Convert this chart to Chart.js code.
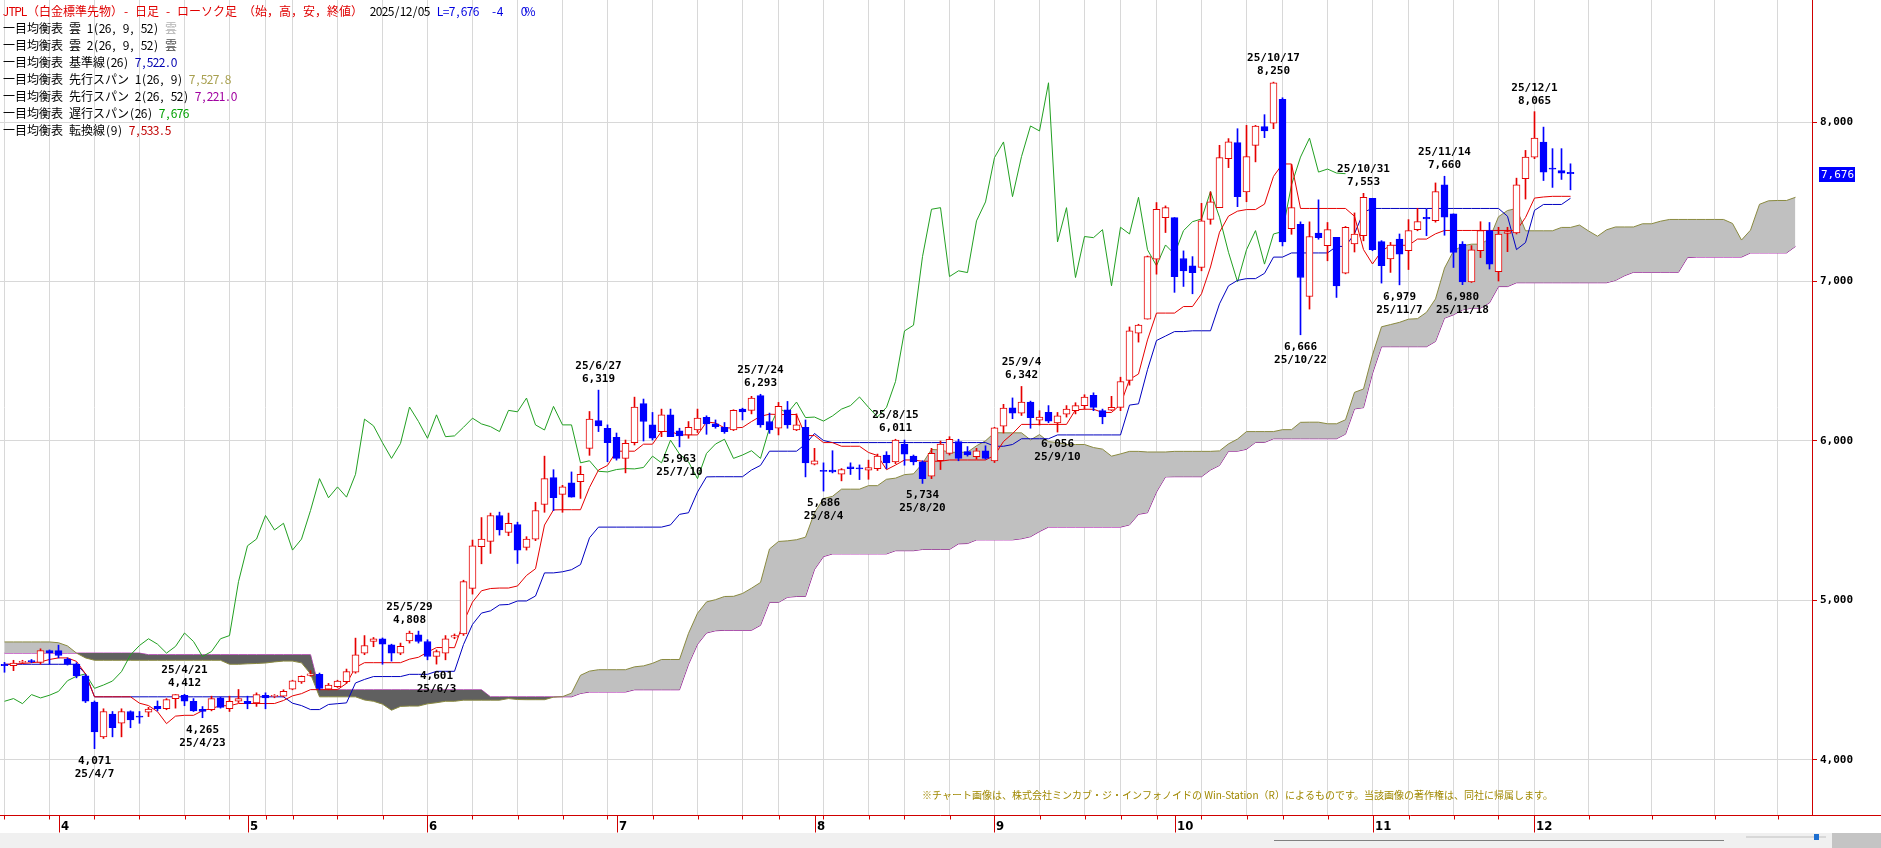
<!DOCTYPE html>
<html>
<head>
<meta charset="utf-8">
<script src="https://cdn.jsdelivr.net/npm/chart.js@4.4.1/dist/chart.umd.min.js"></script>
<style>
  html, body { margin: 0; padding: 0; background: #fff; overflow: hidden; }
  canvas { display: block; }
</style>
</head>
<body>
<canvas id="chart" width="1881" height="848"></canvas>
<script>
const YEAR = 2025;
const dates = [
  '3/24','3/25','3/26','3/27','3/28','3/31',
  '4/1','4/2','4/3','4/4','4/7','4/8','4/9','4/10','4/11','4/14','4/15','4/16','4/17','4/18','4/21','4/22','4/23','4/24','4/25','4/28','4/30',
  '5/1','5/2','5/7','5/8','5/9','5/12','5/13','5/14','5/15','5/16','5/19','5/20','5/21','5/22','5/23','5/26','5/27','5/28','5/29','5/30',
  '6/2','6/3','6/4','6/5','6/6','6/9','6/10','6/11','6/12','6/13','6/16','6/17','6/18','6/19','6/20','6/23','6/24','6/25','6/26','6/27','6/30',
  '7/1','7/2','7/3','7/4','7/7','7/8','7/9','7/10','7/11','7/14','7/15','7/16','7/17','7/18','7/22','7/23','7/24','7/25','7/28','7/29','7/30','7/31',
  '8/1','8/4','8/5','8/6','8/7','8/8','8/12','8/13','8/14','8/15','8/18','8/19','8/20','8/21','8/22','8/25','8/26','8/27','8/28','8/29',
  '9/1','9/2','9/3','9/4','9/5','9/8','9/9','9/10','9/11','9/12','9/16','9/17','9/18','9/19','9/22','9/24','9/25','9/26','9/29','9/30',
  '10/1','10/2','10/3','10/6','10/7','10/8','10/9','10/10','10/14','10/15','10/16','10/17','10/20','10/21','10/22','10/23','10/24','10/27','10/28','10/29','10/30','10/31',
  '11/4','11/5','11/6','11/7','11/10','11/11','11/12','11/13','11/14','11/17','11/18','11/19','11/20','11/21','11/25','11/26','11/27','11/28',
  '12/1','12/2','12/3','12/4','12/5'
];

const opens = [
  4600,4591,4612,4623,4612,4686,4686,4633,4601,4527,
  4363,4145,4287,4230,4304,4276,4300,4336,4321,4385,
  4406,4368,4317,4315,4389,4321,4368,4368,4357,4406,
  4398,4400,4444,4490,4530,4537,4444,4459,4491,4550,
  4670,4743,4760,4722,4670,4747,4785,4743,4649,4670,
  4770,4790,5076,5337,5371,5533,5427,5476,5333,5385,
  5602,5770,5665,5737,5745,5954,6128,6080,6023,5891,
  5989,6234,6101,6059,6164,6063,6038,6069,6149,6107,
  6086,6069,6200,6192,6284,6122,6080,6196,6069,6086,
  5855,5815,5817,5792,5838,5830,5817,5827,5912,5869,
  5979,5905,5869,5779,5876,5922,5996,5933,5901,5939,
  5875,6093,6208,6175,6244,6130,6179,6114,6168,6190,
  6222,6287,6190,6194,6211,6380,6676,6764,7140,7401,
  7401,7144,7098,7088,7390,7463,7770,7871,7562,7854,
  7971,7992,8142,7332,7359,6906,7303,7224,7277,7053,
  7235,7287,7522,7250,7141,7266,7193,7325,7403,7382,
  7606,7424,7235,6998,7193,7319,7061,7302,7304,7644,
  7780,7874,7710,7696,7684
];
const highs = [
  4612,4625,4625,4630,4697,4690,4720,4640,4610,4535,
  4370,4321,4304,4321,4308,4304,4330,4370,4385,4410,
  4412,4385,4335,4400,4395,4400,4442,4400,4421,4421,
  4410,4440,4500,4527,4560,4545,4480,4500,4570,4764,
  4780,4768,4765,4726,4733,4808,4808,4754,4690,4780,
  4790,5127,5379,5520,5548,5554,5548,5491,5400,5616,
  5905,5820,5722,5806,5842,6185,6319,6101,6050,6006,
  6275,6263,6179,6200,6200,6080,6122,6200,6158,6132,
  6116,6196,6206,6280,6293,6175,6242,6248,6170,6132,
  5954,5863,5939,5827,5863,5850,5880,5918,5933,6011,
  6006,5912,5876,5954,6000,6027,6011,5965,5954,5970,
  6086,6230,6270,6342,6250,6190,6222,6179,6222,6240,
  6290,6302,6200,6280,6400,6715,6732,7160,7495,7474,
  7401,7192,7156,7490,7562,7854,7896,7958,7979,7979,
  8046,8250,8152,7733,7374,7374,7512,7370,7277,7345,
  7430,7553,7522,7256,7245,7298,7388,7459,7453,7618,
  7660,7424,7250,7225,7375,7370,7340,7340,7648,7822,
  8065,7968,7833,7833,7738
];
const lows = [
  4550,4560,4605,4610,4600,4600,4640,4595,4515,4360,
  4071,4135,4145,4145,4202,4230,4272,4308,4315,4325,
  4340,4304,4265,4308,4325,4304,4360,4321,4336,4321,
  4390,4395,4440,4480,4525,4440,4440,4455,4480,4544,
  4660,4710,4600,4620,4660,4733,4733,4628,4601,4628,
  4760,4781,5040,5230,5295,5410,5406,5232,5316,5375,
  5553,5564,5553,5648,5640,5910,6059,5870,5880,5800,
  5975,6000,6006,6027,6027,5963,6017,6053,6042,6080,
  6048,6065,6132,6170,6086,6048,6038,6080,6065,5775,
  5850,5686,5800,5750,5790,5758,5760,5815,5827,5858,
  5848,5850,5734,5764,5821,5912,5876,5905,5886,5886,
  5865,6050,6140,6160,6080,6100,6115,6056,6150,6170,
  6200,6190,6108,6190,6190,6350,6620,6764,7046,7307,
  6932,6969,6923,7067,7359,7463,7714,7469,7500,7750,
  7902,7958,7223,7296,6666,6827,7265,7130,6900,7048,
  7185,7255,7193,6990,7057,6979,7075,7318,7287,7372,
  7290,7088,6980,6994,7150,7078,7003,7187,7298,7517,
  7770,7633,7590,7640,7575
];
const closes = [
  4592,4608,4618,4616,4686,4671,4655,4601,4527,4368,
  4176,4304,4202,4304,4251,4268,4319,4321,4378,4410,
  4368,4308,4304,4385,4330,4368,4385,4353,4410,4389,
  4406,4430,4497,4525,4540,4449,4470,4495,4554,4659,
  4718,4760,4726,4670,4712,4796,4743,4649,4680,4760,
  4780,5118,5343,5385,5533,5442,5484,5316,5385,5564,
  5764,5644,5712,5648,5791,6137,6095,5989,5891,5985,
  6213,6122,6017,6164,6027,6032,6086,6143,6107,6090,
  6059,6192,6183,6269,6101,6069,6217,6101,6101,5863,
  5876,5810,5806,5821,5827,5825,5834,5905,5863,6005,
  5918,5869,5764,5922,5981,6011,5891,5912,5939,5891,
  6082,6206,6175,6244,6147,6150,6125,6157,6200,6222,
  6276,6211,6151,6211,6373,6690,6726,7156,7453,7463,
  7031,7067,7056,7380,7499,7777,7875,7532,7783,7975,
  7944,8246,7248,7463,7025,7282,7275,7325,6973,7340,
  7298,7528,7199,7099,7229,7172,7319,7375,7392,7564,
  7403,7183,6998,7199,7319,7109,7298,7313,7606,7780,
  7899,7686,7705,7680,7676
];

// 転換線(9)
const tenkan = [
  4600,4600,4605,4610,4615,4630,4640,4640,4618,4540,
  4396,4396,4396,4396,4396,4356,4341,4303,4228,4275,
  4280,4280,4309,4323,4340,4340,4354,4354,4354,4354,
  4354,4373,4402,4416,4441,4441,4441,4441,4480,4580,
  4610,4610,4610,4610,4610,4632,4644,4676,4705,4705,
  4704,4864,4990,5061,5075,5078,5078,5091,5157,5199,
  5473,5568,5569,5569,5569,5709,5818,5847,5936,5936,
  5936,5980,5980,6060,6060,6038,6038,6038,6119,6113,
  6082,6082,6085,6122,6155,6168,6166,6166,6166,6034,
  6034,5990,5990,5967,5967,5967,5928,5909,5820,5849,
  5881,5881,5873,5873,5873,5881,5881,5881,5881,5881,
  5910,5997,6046,6104,6104,6104,6104,6104,6104,6196,
  6199,6199,6179,6179,6228,6386,6420,6634,6802,6802,
  6802,6843,6843,6923,7091,7309,7410,7441,7451,7451,
  7485,7659,7737,7737,7458,7458,7458,7458,7458,7458,
  7409,7200,7110,7190,7227,7227,7227,7266,7266,7299,
  7320,7320,7320,7320,7320,7320,7320,7320,7320,7401,
  7523,7530,7534,7534,7534
];
// 基準線(26)
const kijun = [
  4600,4600,4600,4600,4600,4600,4600,4600,4600,4540,
  4396,4396,4396,4396,4396,4396,4396,4396,4396,4396,
  4396,4396,4396,4396,4396,4396,4396,4396,4396,4396,
  4396,4396,4356,4341,4316,4316,4348,4353,4358,4483,
  4505,4523,4523,4523,4523,4537,4537,4537,4556,4556,
  4556,4724,4850,4921,4935,4972,4975,4997,4997,5028,
  5173,5173,5180,5193,5225,5393,5460,5460,5460,5460,
  5460,5460,5460,5460,5474,5540,5550,5680,5775,5776,
  5776,5776,5776,5818,5847,5936,5936,5936,5936,5980,
  6047,6003,5990,5990,5990,5990,5990,5990,5990,5990,
  5990,5990,5990,5990,5990,5990,5990,5990,5990,5990,
  5967,5967,5978,6014,6014,6014,6014,6038,6038,6038,
  6038,6038,6038,6038,6038,6225,6233,6447,6630,6658,
  6686,6686,6691,6691,6691,6860,6973,7007,7018,7018,
  7051,7153,7153,7179,7179,7179,7179,7179,7220,7220,
  7300,7435,7458,7458,7458,7458,7458,7458,7458,7458,
  7458,7458,7458,7458,7458,7458,7458,7409,7200,7244,
  7446,7483,7483,7483,7522
];
// 先行スパン1 (plotted 25 sessions ahead)
const span1 = [
  4740,4740,4740,4740,4740,4740,4735,4715,4670,4640,
  4625,4625,4625,4625,4625,4625,4625,4625,4625,4625,
  4625,4625,4625,4625,4625,4600,4600,4603,4605,4608,
  4615,4620,4620,4609,4540,4396,4396,4396,4396,4396,
  4376,4368,4350,4312,4336,4338,4338,4352,4359,4368,
  4368,4375,4375,4375,4375,4375,4385,4379,4378,4378,
  4378,4394,4397,4419,4531,4557,4566,4566,4566,4566,
  4584,4590,4606,4630,4630,4630,4794,4920,4991,5005,
  5025,5026,5044,5077,5113,5323,5370,5374,5381,5397,
  5551,5639,5653,5698,5698,5698,5720,5720,5760,5767,
  5789,5794,5859,5947,5944,5929,5929,5930,5970,6001,
  6052,6051,6051,6051,6007,6040,5996,5990,5978,5978,
  5978,5959,5949,5905,5919,5935,5935,5931,5931,5931,
  5935,5935,5935,5935,5935,5938,5982,6012,6059,6059,
  6059,6059,6071,6071,6117,6118,6118,6108,6108,6133,
  6305,6326,6540,6716,6730,6744,6764,6767,6807,6891,
  7084,7191,7224,7234,7234,7268,7406,7445,7458,7318,
  7318,7318,7318,7339,7339,7354,7317,7284,7324,7342,
  7342,7342,7362,7362,7378,7389,7389,7389,7389,7389,
  7389,7389,7364,7260,7322,7484,7506,7508,7508,7528
];
// 先行スパン2 (plotted 25 sessions ahead)
const span2 = [
  4670,4670,4670,4670,4670,4670,4670,4670,4670,4670,
  4670,4670,4670,4670,4670,4670,4660,4660,4660,4660,
  4660,4660,4660,4660,4660,4660,4660,4660,4660,4660,
  4660,4660,4660,4660,4660,4440,4440,4440,4440,4440,
  4440,4440,4440,4440,4440,4440,4440,4440,4440,4440,
  4440,4440,4440,4440,4396,4396,4396,4396,4396,4396,
  4396,4396,4396,4396,4417,4426,4426,4426,4426,4426,
  4440,4440,4440,4440,4440,4440,4599,4725,4796,4810,
  4813,4813,4813,4813,4844,4988,4988,5020,5025,5025,
  5194,5275,5292,5292,5292,5292,5292,5292,5292,5312,
  5312,5312,5320,5320,5320,5320,5355,5357,5380,5380,
  5380,5380,5380,5387,5400,5432,5460,5460,5460,5460,
  5460,5460,5460,5460,5460,5474,5540,5550,5680,5775,
  5776,5776,5776,5776,5818,5847,5936,5936,5948,5991,
  5991,6014,6014,6014,6014,6014,6014,6014,6014,6043,
  6201,6209,6423,6591,6591,6591,6591,6591,6591,6624,
  6770,6791,6822,6833,6833,6866,6968,6968,6992,6992,
  6992,6992,6992,6992,6992,6992,6992,6992,6992,7007,
  7036,7058,7058,7058,7058,7058,7058,7150,7153,7153,
  7153,7153,7153,7153,7179,7179,7179,7179,7179,7220
];
const SHIFT = 25;                       // 遅行スパン plotted 25 sessions back
const highMarks = [20, 45, 66, 84, 99, 113, 141, 151, 160, 170];
const lowMarks = [10, 22, 48, 75, 91, 102, 117, 144, 155, 162];
const yTicks = [4000, 5000, 6000, 7000, 8000];
const futureGrid = [176, 183, 190, 197];
const lastPrice = 7676;

const UP = '#e60000', DOWN = '#0000ff';
const fmt = v => v.toLocaleString('en-US');

const dayObjs = dates.map(d => { const [m, dd] = d.split('/').map(Number); return new Date(YEAR, m - 1, dd); });
const mondayOf = d => { const m = new Date(d); m.setDate(d.getDate() - (d.getDay() + 6) % 7); return m.getTime(); };
const weekStarts = [], monthStarts = [];
dayObjs.forEach((d, i) => {
  if (i === 0) { weekStarts.push(i); return; }
  const p = dayObjs[i - 1];
  if (mondayOf(d) !== mondayOf(p)) weekStarts.push(i);
  if (d.getMonth() !== p.getMonth()) monthStarts.push(i);
});

const isUp = closes.map((c, i) => c >= opens[i]);
const idx = closes.map((_, i) => i);

// fixed-pitch text: half-width chars take `half` px, full-width chars twice that
function monoText(ctx, text, x, y, half) {
  ctx.textAlign = 'center';
  for (const ch of text) {
    const w = ch.charCodeAt(0) > 0xff ? half * 2 : half;
    ctx.fillText(ch, x + w / 2, y);
    x += w;
  }
  return x;
}

const decor = {
  id: 'decor',
  beforeDraw(chart) {
    const ctx = chart.ctx;
    ctx.save();
    ctx.fillStyle = '#fff';
    ctx.fillRect(0, 0, chart.width, chart.height);
    ctx.restore();
  },
  afterDraw(chart) {
    const ctx = chart.ctx, xs = chart.scales.x, ys = chart.scales.y, area = chart.chartArea;
    ctx.save();

    // bottom strip
    ctx.fillStyle = '#f0f0f0';
    ctx.fillRect(0, 833, chart.width, 15);
    ctx.fillStyle = '#808080';
    ctx.fillRect(1274, 840, 450, 1);
    ctx.fillStyle = '#d8d8d8';
    ctx.fillRect(1746, 836, 80, 2);
    ctx.fillStyle = '#1e6fd0';
    ctx.fillRect(1814, 834, 5, 6);
    ctx.fillStyle = '#c4c4c4';
    ctx.fillRect(1832, 833, 49, 15);

    // x axis
    const ay = Math.round(area.bottom) + 0.5;
    ctx.strokeStyle = '#d00000';
    ctx.lineWidth = 1;
    ctx.beginPath();
    ctx.moveTo(0, ay); ctx.lineTo(chart.width, ay);
    weekStarts.concat(futureGrid).forEach(i => {
      const x = Math.round(xs.getPixelForValue(i)) + 0.5;
      ctx.moveTo(x, ay); ctx.lineTo(x, ay + 4);
    });
    monthStarts.forEach(i => {
      const x = Math.round(xs.getPixelForValue(i)) + 0.5;
      ctx.moveTo(x, ay); ctx.lineTo(x, ay + 17);
    });
    ctx.stroke();
    ctx.fillStyle = '#000';
    ctx.font = 'bold 13px "Liberation Sans Narrow", "DejaVu Sans Condensed", sans-serif';
    ctx.textBaseline = 'middle';
    ctx.textAlign = 'left';
    monthStarts.forEach(i => {
      ctx.fillText(String(dayObjs[i].getMonth() + 1), Math.round(xs.getPixelForValue(i)) + 2, ay + 11);
    });

    // current price box
    const py = Math.round(ys.getPixelForValue(lastPrice));
    ctx.fillStyle = '#0000ff';
    ctx.fillRect(1819, py - 7, 36, 15);
    ctx.fillStyle = '#fff';
    ctx.font = '11px "DejaVu Sans Mono"';
    ctx.fillText(fmt(lastPrice), 1821, py + 1);

    // high / low marks
    ctx.fillStyle = '#000';
    ctx.font = 'bold 11px "DejaVu Sans Mono"';
    ctx.textAlign = 'center';
    const yy = String(YEAR).slice(2) + '/';
    highMarks.forEach(i => {
      const x = xs.getPixelForValue(i), y = ys.getPixelForValue(highs[i]);
      ctx.fillText(yy + dates[i], x, y - 24);
      ctx.fillText(fmt(highs[i]), x, y - 11);
    });
    lowMarks.forEach(i => {
      const x = xs.getPixelForValue(i), y = ys.getPixelForValue(lows[i]);
      ctx.fillText(fmt(lows[i]), x, y + 12);
      ctx.fillText(yy + dates[i], x, y + 25);
    });

    // legend block
    ctx.font = '12px "Noto Sans CJK JP"';
    const segs = (x, y, parts) => parts.forEach(([t, c]) => { ctx.fillStyle = c; x = monoText(ctx, t, x, y, 6); });
    segs(3, 11, [['JTPL（白金標準先物）- 日足 - ローソク足 （始，高，安，終値）', '#e00000']]);
    segs(370, 11, [['2025/12/05', '#000']]);
    segs(437, 11, [['L=7,676  -4   0%', '#0000e0']]);
    const rows = [
      ['一目均衡表 雲 1(26, 9, 52) ', '雲', '#b4b4b4'],
      ['一目均衡表 雲 2(26, 9, 52) ', '雲', '#505050'],
      ['一目均衡表 基準線(26) ', '7,522.0', '#0000b0'],
      ['一目均衡表 先行スパン 1(26, 9) ', '7,527.8', '#a8a050'],
      ['一目均衡表 先行スパン 2(26, 52) ', '7,221.0', '#a000a0'],
      ['一目均衡表 遅行スパン(26) ', '7,676', '#00a000'],
      ['一目均衡表 転換線(9) ', '7,533.5', '#c00000']
    ];
    rows.forEach((r, k) => segs(3, 28 + k * 17, [[r[0], '#000'], [r[1], r[2]]]));

    // footer
    ctx.font = '10px "Noto Sans CJK JP"';
    ctx.fillStyle = '#a08800';
    ctx.textAlign = 'left';
    ctx.fillText('※チャート画像は、株式会社ミンカブ・ジ・インフォノイドの Win-Station（R）によるものです。当該画像の著作権は、同社に帰属します。', 922, 795);
    ctx.restore();
  }
};

const lineDs = (label, data, color, order, extra) => Object.assign({
  type: 'line', label, data, borderColor: color, borderWidth: 1,
  pointRadius: 0, tension: 0, fill: false, order
}, extra || {});

new Chart(document.getElementById('chart'), {
  data: {
    datasets: [
      {
        type: 'bar', label: 'body',
        data: idx.map(i => ({ x: i, y: [opens[i], closes[i]] })),
        backgroundColor: isUp.map(u => u ? '#ffffff' : DOWN),
        borderColor: isUp.map(u => u ? UP : DOWN),
        borderWidth: 1, borderSkipped: false, barThickness: 7, minBarLength: 1,
        grouped: false, order: 0
      },
      {
        type: 'bar', label: 'wick',
        data: idx.map(i => ({ x: i, y: [lows[i], highs[i]] })),
        backgroundColor: isUp.map(u => u ? UP : DOWN),
        borderWidth: 0, barThickness: 1, grouped: false, order: 1
      },
      lineDs('転換線', tenkan.map((v, i) => ({ x: i, y: v })), '#e60000', 2),
      lineDs('基準線', kijun.map((v, i) => ({ x: i, y: v })), '#0000c0', 2),
      lineDs('遅行スパン', closes.slice(SHIFT).map((v, j) => ({ x: j, y: v })), '#22a022', 2),
      lineDs('先行スパン1', span1.map((v, j) => ({ x: j, y: v })), '#8a8a40', 3,
        { fill: { target: '+1', above: '#c0c0c0', below: '#606060' } }),
      lineDs('先行スパン2', span2.map((v, j) => ({ x: j, y: v })), '#b020b0', 3)
    ]
  },
  options: {
    responsive: false,
    animation: false,
    events: [],
    layout: { padding: 0 },
    plugins: { legend: { display: false }, tooltip: { enabled: false } },
    scales: {
      x: {
        type: 'linear', offset: false, min: -0.5, max: 1812 / 9 - 0.5,
        afterBuildTicks: s => { s.ticks = weekStarts.concat(futureGrid).map(v => ({ value: v })); },
        afterFit: s => { s.height = 33; s.paddingLeft = 0; s.paddingRight = 0; },
        grid: { color: '#d8d8d8', drawTicks: false, offset: false },
        border: { display: false },
        ticks: { display: false }
      },
      y: {
        position: 'right', min: 3655, max: 8765,
        afterBuildTicks: s => { s.ticks = yTicks.map(v => ({ value: v })); },
        afterFit: s => { s.width = 69; s.paddingTop = 0; s.paddingBottom = 0; },
        grid: { color: '#d8d8d8', tickColor: '#d00000', tickLength: 5 },
        border: { color: '#d00000', width: 1 },
        ticks: {
          color: '#000', padding: 3,
          font: { family: '"DejaVu Sans Mono"', size: 11, weight: 'bold' },
          callback: v => fmt(v)
        }
      }
    }
  },
  plugins: [decor]
});
</script>
</body>
</html>
